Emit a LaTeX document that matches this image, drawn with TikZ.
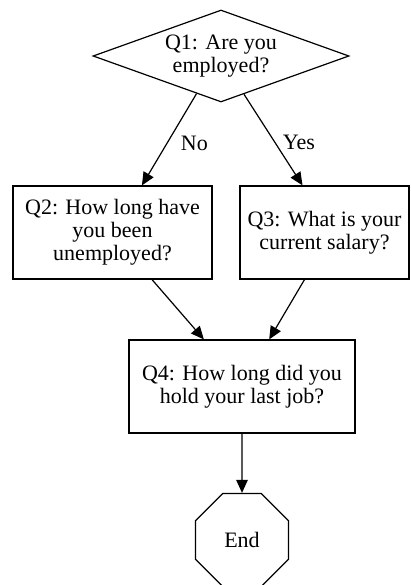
\documentclass[tikz,border=0pt]{standalone}
\usepackage{fontspec}
\setmainfont{Liberation Serif}
\usetikzlibrary{shapes.geometric,arrows.meta}

\begin{document}
\begin{tikzpicture}[x=1pt,y=1pt,line width=1.2pt,
    >={Triangle[length=13pt,width=11.5pt]},
    every node/.style={font=\fontsize{22}{23}\selectfont,align=center},
    question/.style={draw,rectangle,minimum height=93pt,inner sep=0pt},
    decision/.style={draw,diamond,aspect=2.8,inner sep=0pt,
      minimum width=256pt,minimum height=92pt},
    stopsign/.style={draw,regular polygon,regular polygon sides=8,
      minimum size=100.7pt,inner sep=0pt}]
        \useasboundingbox (0,0) rectangle (411,-585) ;
        % questions
        \node[decision] (q1) at (221,-56) {Q1: Are you\\employed?} ;
        \node[question,minimum width=199pt] (q2) at (112.5,-232.5)
          {Q2: How long have\\you been\\unemployed?} ;
        \node[question,minimum width=169pt] (q3) at (324.5,-232.5)
          {Q3: What is your\\current salary?} ;
        \node[question,minimum width=226pt] (q4) at (242,-386.5)
          {Q4: How long did you\\hold your last job?} ;
        \node[stopsign] (end) at (242,-540) {End} ;
        % answers
        \draw[->] (q1.-123) -- node[pos=0.54,right=10pt] {No} (q2.58) ;
        \draw[->] (q1.-59) -- node[pos=0.53,right=4pt] {Yes} (q3.115) ;
        \draw[->] (q2.-50) -- (q4.129) ;
        \draw[->] (q3.-113) -- (q4.60) ;
        \draw[->] (q4) -- (end) ;
      \end{tikzpicture}
\end{document}
